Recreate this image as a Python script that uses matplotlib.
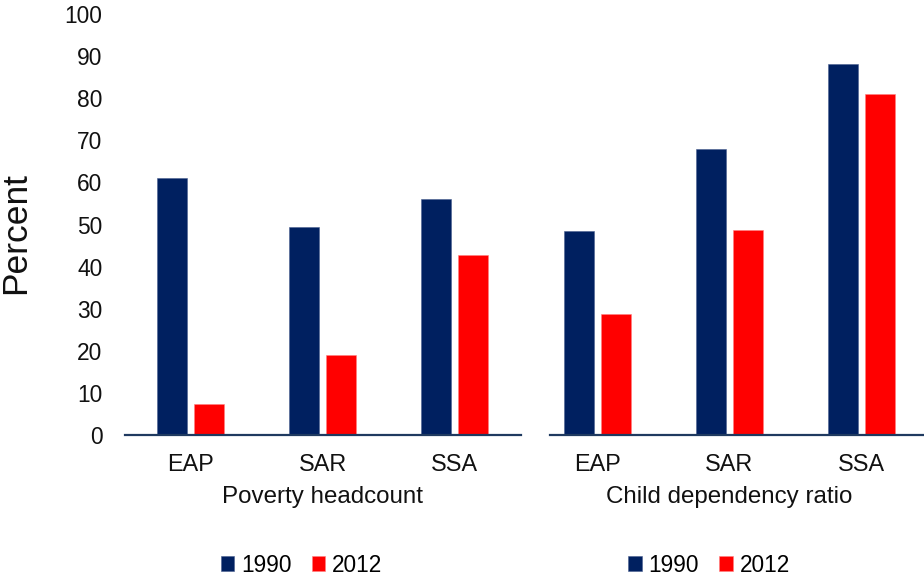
import numpy as np
import matplotlib
matplotlib.use("Agg")
import matplotlib.pyplot as plt

plt.rcParams['font.family'] = ['Liberation Sans', 'DejaVu Sans']

regions = ["EAP", "SAR", "SSA"]
years = ["1990", "2012"]

poverty_1990 = [61.0, 49.3, 56.1]
poverty_2012 = [7.3, 18.9, 42.7]
dependency_1990 = [48.5, 67.9, 88.1]
dependency_2012 = [28.7, 48.6, 81.0]

panel_titles = ["Poverty headcount", "Child dependency ratio"]
y_ticks = list(range(0, 101, 10))

navy = "#002060"
red = "#FF0000"
base_color = "#1F3A60"
text_color = "#111111"

W, H = 924, 577
fig = plt.figure(figsize=(W / 100, H / 100), dpi=100)

y0 = 1 - 435 / H
y1 = 1 - 14 / H
ax_l = fig.add_axes([124.5 / W, y0, 396 / W, y1 - y0])
ax_r = fig.add_axes([531.5 / W, y0, 396 / W, y1 - y0])

x = np.arange(len(regions))
offset = 0.142
width = 0.225

panels = [(ax_l, poverty_1990, poverty_2012, panel_titles[0], 301.5),
          (ax_r, dependency_1990, dependency_2012, panel_titles[1], 709.0)]

for ax, v1990, v2012, title, leg_x in panels:
    ax.bar(x - offset, v1990, width, color=navy, edgecolor="#4A6090",
           linewidth=0.4, label=years[0])
    ax.bar(x + offset, v2012, width, color=red, edgecolor="#FF8080",
           linewidth=0.4, label=years[1])
    ax.set_xlim(-0.5, len(regions) - 0.5)
    ax.set_ylim(0, 100)
    ax.set_xticks(x)
    ax.set_xticklabels(regions, fontsize=16.8, color=text_color)
    ax.tick_params(axis="x", length=0, pad=13)
    for s in ["top", "right", "left"]:
        ax.spines[s].set_visible(False)
    ax.spines["bottom"].set_color(base_color)
    ax.spines["bottom"].set_linewidth(1.6)
    ax.set_xlabel(title, fontsize=17.4, color=text_color, labelpad=7)
    handles, labels = ax.get_legend_handles_labels()
    fig.legend(handles, labels, loc="center", bbox_to_anchor=(leg_x / W, 1 - 565 / H),
               ncol=2, frameon=False, fontsize=16.3, handlelength=0.6,
               handleheight=0.6, handletextpad=0.3, columnspacing=0.9,
               borderaxespad=0, borderpad=0)

ax_l.set_yticks(y_ticks)
ax_l.set_yticklabels([str(t) for t in y_ticks], fontsize=16.4, color=text_color)
ax_l.tick_params(axis="y", length=0, pad=16)
fig.text(15.5 / W, 1 - 233 / H, "Percent", rotation=90, ha="center", va="center",
         fontsize=25.5, color=text_color)

ax_r.set_yticks([])
ax_r.spines["bottom"].set_bounds(-0.5 + 18.5 / 132, len(regions) - 0.5)

fig.savefig("out.png", dpi=100, facecolor="white")
